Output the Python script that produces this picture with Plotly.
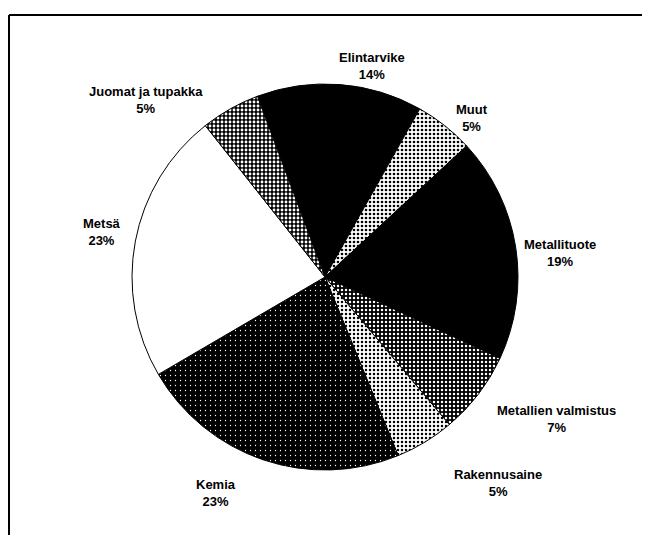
import plotly.graph_objects as go

# Toimialat ja osuudet (%), myötäpäivään klo 12:n vasemmalta puolelta
labels = [
    "Elintarvike",
    "Muut",
    "Metallituote",
    "Metallien valmistus",
    "Rakennusaine",
    "Kemia",
    "Metsä",
    "Juomat ja tupakka",
]
values = [14, 5, 19, 7, 5, 23, 23, 5]

# page has an 8px body margin, so the figure is smaller and shifted
OFF = 8
W, H = 650 - 2 * OFF, 543 - 2 * OFF

# label centres in screen pixels (x from left, y from top)
label_pos = [
    (372, 66),
    (472, 118),
    (560, 253),
    (556, 419),
    (498, 483),
    (216, 493),
    (102, 232),
    (146, 100),
]

cx, cy, r = 325, 277, 193

patterns = [
    dict(shape="", fgcolor="black", bgcolor="black"),
    dict(shape=".", fgcolor="black", bgcolor="white", size=4, solidity=0.35),
    dict(shape="", fgcolor="black", bgcolor="black"),
    dict(shape=".", fgcolor="white", bgcolor="black", size=4, solidity=0.3),
    dict(shape=".", fgcolor="black", bgcolor="white", size=4, solidity=0.3),
    dict(shape=".", fgcolor="white", bgcolor="black", size=5, solidity=0.05),
    dict(shape="", fgcolor="white", bgcolor="white"),
    dict(shape=".", fgcolor="white", bgcolor="black", size=4, solidity=0.4),
]
colors = [p["bgcolor"] for p in patterns]

fig = go.Figure(
    go.Pie(
        labels=labels,
        values=values,
        sort=False,
        direction="clockwise",
        rotation=-20.5,
        textinfo="none",
        hoverinfo="label+percent",
        marker=dict(
            colors=colors,
            line=dict(color="black", width=1),
            pattern=dict(
                shape=[p["shape"] for p in patterns],
                fgcolor=[p["fgcolor"] for p in patterns],
                bgcolor=[p["bgcolor"] for p in patterns],
                size=[p.get("size", 8) for p in patterns],
                solidity=[p.get("solidity", 0.3) for p in patterns],
                fillmode="replace",
            ),
        ),
        domain=dict(
            x=[(cx - OFF - r) / W, (cx - OFF + r) / W],
            y=[1 - (cy - OFF + r) / H, 1 - (cy - OFF - r) / H],
        ),
        showlegend=False,
    )
)

for lab, val, (px, py) in zip(labels, values, label_pos):
    fig.add_annotation(
        x=(px - OFF) / W,
        y=1 - (py - OFF) / H,
        xref="paper",
        yref="paper",
        xanchor="center",
        yanchor="middle",
        text=f"<b>{lab}<br>{val}%</b>",
        showarrow=False,
        font=dict(family="Liberation Sans", size=13, color="black"),
        align="center",
    )

# frame (top and left edges visible in the scan)
fx, fy = (9 - OFF) / W, 1 - (15 - OFF) / H
fig.add_shape(type="line", xref="paper", yref="paper", x0=fx, x1=1, y0=fy, y1=fy,
              line=dict(color="black", width=2))
fig.add_shape(type="line", xref="paper", yref="paper", x0=fx, x1=fx, y0=0, y1=fy,
              line=dict(color="black", width=2))

fig.update_layout(
    width=W,
    height=H,
    margin=dict(l=0, r=0, t=0, b=0),
    paper_bgcolor="white",
    plot_bgcolor="white",
)

fig.write_html("out.html")
